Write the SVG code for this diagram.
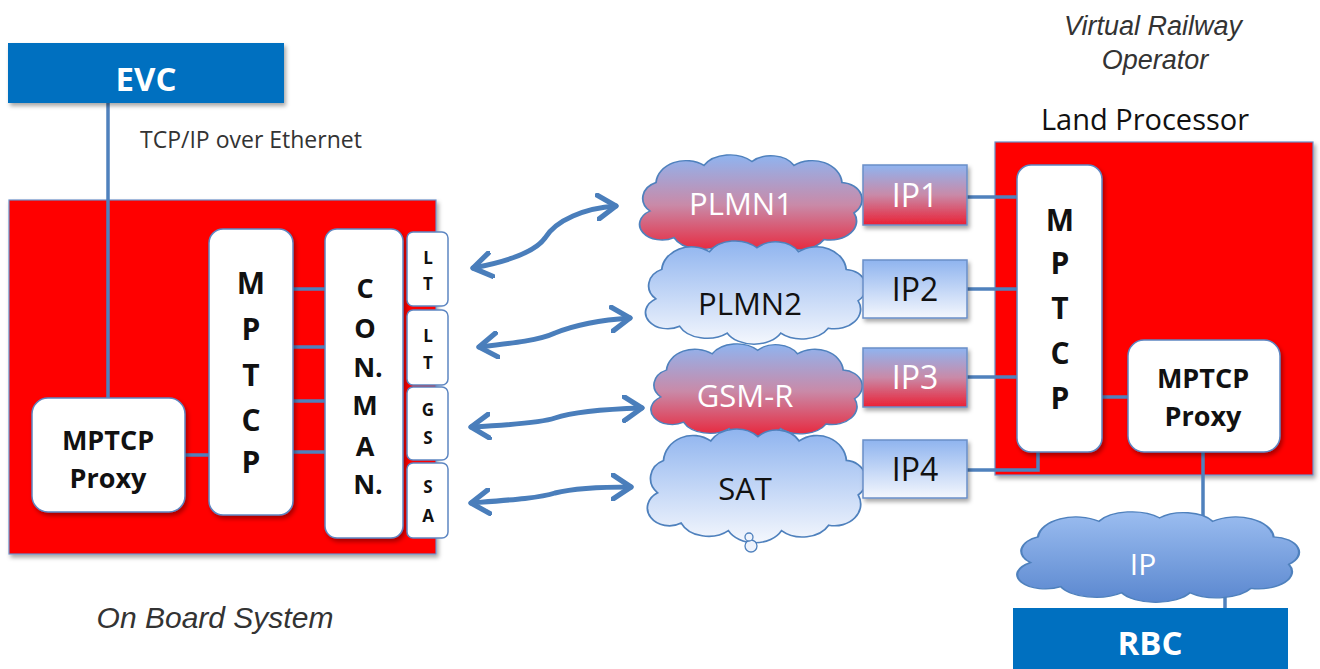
<svg xmlns="http://www.w3.org/2000/svg" width="1320" height="669" viewBox="0 0 1320 669">
<style>
.red{fill:#ff0000;stroke:#6a8fc8;stroke-width:1.2}
.wbox{fill:#ffffff;stroke:#5d86c2;stroke-width:1.5}
.blue{fill:#0070c0}
.ln{stroke:#4f81bd;stroke-width:3.5;fill:none}
.arr{stroke:#4a7ebb;stroke-width:5;fill:none;stroke-linecap:round;marker-start:url(#ah);marker-end:url(#ah)}
.cl{stroke:#4f81bd;stroke-width:1.5;vector-effect:non-scaling-stroke}
.t{font-family:"Open Sans","Liberation Sans",sans-serif}
.b{font-weight:bold}
.ital{font-family:"Liberation Sans",Arial,sans-serif;font-style:italic;fill:#333}
.let{font-family:"Open Sans","Liberation Sans",sans-serif;font-weight:bold;font-size:30px;text-anchor:middle;fill:#111}
.let2{font-family:"Open Sans","Liberation Sans",sans-serif;font-weight:bold;font-size:27px;text-anchor:middle;fill:#111}
.sm{font-family:"Open Sans","Liberation Sans",sans-serif;font-weight:bold;font-size:17px;text-anchor:middle;fill:#111}
.ipbox{stroke:#6a8fc8;stroke-width:1.5}
</style>
<defs>
<filter id="sh" x="-10%" y="-10%" width="130%" height="130%"><feDropShadow dx="2" dy="3" stdDeviation="2" flood-color="#000" flood-opacity="0.35"/></filter>
<linearGradient id="gRed" x1="0" y1="0" x2="0" y2="1"><stop offset="0" stop-color="#8fb4f0"/><stop offset="0.5" stop-color="#c98aa8"/><stop offset="1" stop-color="#ea2035"/></linearGradient>
<linearGradient id="gLight" x1="0" y1="0" x2="0" y2="1"><stop offset="0" stop-color="#8fb4ef"/><stop offset="1" stop-color="#f4f7fd"/></linearGradient>
<linearGradient id="gIP" x1="0" y1="0" x2="0" y2="1"><stop offset="0" stop-color="#9bbdf0"/><stop offset="1" stop-color="#5a87cf"/></linearGradient>
<marker id="ah" viewBox="0 0 12 14" refX="10" refY="7" markerWidth="4.8" markerHeight="5.6" orient="auto-start-reverse" markerUnits="strokeWidth"><path d="M1,1 L10,7 L1,13" fill="none" stroke="#4a7ebb" stroke-width="2.6" stroke-linecap="round" stroke-linejoin="round"/></marker>
<path id="cloud" d="M20,60 A18 18 0 0 1 25,30 A25 25 0 0 1 65,12 A25 22 0 0 1 105,8 A22 20 0 0 1 140,12 A25 25 0 0 1 180,30 A18 18 0 0 1 190,62 A22 20 0 0 1 165,90 A25 20 0 0 1 125,95 A25 20 0 0 1 80,95 A25 20 0 0 1 40,88 A18 16 0 0 1 20,60 Z"/>
</defs>

<rect width="1320" height="669" fill="#ffffff"/>

<!-- labels -->
<text class="ital" x="1153" y="35" font-size="27" text-anchor="middle">Virtual Railway</text>
<text class="ital" x="1155" y="69" font-size="27" text-anchor="middle">Operator</text>
<text class="t" x="1145" y="130" font-size="29" text-anchor="middle" fill="#111">Land Processor</text>
<text class="ital" x="215" y="628" font-size="30" text-anchor="middle">On Board System</text>
<text class="t" x="140" y="148" font-size="23" fill="#333">TCP/IP over Ethernet</text>

<!-- containers -->
<g id="onboard"><rect class="red" x="9" y="200" width="427" height="354" filter="url(#sh)"/></g>
<g id="landproc"><rect class="red" x="995" y="142" width="318" height="333" filter="url(#sh)"/></g>

<!-- connectors -->
<g id="connectors">
<line class="ln" x1="108" y1="103" x2="108" y2="399"/>
<line class="ln" x1="185" y1="455" x2="210" y2="455"/>
<line class="ln" x1="293" y1="289" x2="325" y2="289"/>
<line class="ln" x1="293" y1="347" x2="325" y2="347"/>
<line class="ln" x1="293" y1="401" x2="325" y2="401"/>
<line class="ln" x1="293" y1="452" x2="325" y2="452"/>
<line class="ln" x1="967" y1="197" x2="1018" y2="197"/>
<line class="ln" x1="967" y1="289" x2="1018" y2="289"/>
<line class="ln" x1="967" y1="377" x2="1018" y2="377"/>
<polyline class="ln" points="967,470 1038,470 1038,452"/>
<line class="ln" x1="1102" y1="397" x2="1128" y2="397"/>
<line class="ln" x1="1203" y1="452" x2="1203" y2="520"/>
<line class="ln" x1="1225" y1="588" x2="1225" y2="610"/>
<path class="arr" d="M473,268 C505,262 535,252 545,238 C556,220 585,208 616,206"/>
<path class="arr" d="M479,347 C515,343 540,340 555,333 C575,325 600,320 630,318"/>
<path class="arr" d="M471,427 C510,425 540,423 555,418 C575,411 610,409 642,408"/>
<path class="arr" d="M471,503 C510,500 540,498 555,493 C575,488 605,487 631,487"/>
</g>

<g id="evc"><rect class="blue" x="8" y="43" width="276" height="60" filter="url(#sh)"/><text class="t b" x="146" y="91" font-size="33" text-anchor="middle" fill="#fff">EVC</text></g>

<g id="proxy-left"><rect class="wbox" x="32" y="398" width="153" height="114" rx="16" filter="url(#sh)"/>
<text class="t b" x="108" y="450" font-size="27" text-anchor="middle" fill="#111">MPTCP</text>
<text class="t b" x="108" y="488" font-size="27" text-anchor="middle" fill="#111">Proxy</text></g>

<g id="mptcp-left"><rect class="wbox" x="209" y="229" width="84" height="286" rx="14" filter="url(#sh)"/>
<text class="let" x="251" y="294">M</text><text class="let" x="251" y="340">P</text><text class="let" x="251" y="386">T</text><text class="let" x="251" y="431">C</text><text class="let" x="251" y="473">P</text></g>

<g id="conman"><rect class="wbox" x="325" y="229" width="78" height="309" rx="12" filter="url(#sh)"/>
<text class="let2" x="365" y="298">C</text><text class="let2" x="365" y="338">O</text><text class="let2" x="368" y="377">N.</text><text class="let2" x="365" y="415">M</text><text class="let2" x="365" y="456">A</text><text class="let2" x="368" y="494">N.</text></g>

<g id="lt1"><rect class="wbox" x="407" y="232" width="41" height="74" rx="6"/><text class="sm" x="428" y="264">L</text><text class="sm" x="428" y="290">T</text></g>
<g id="lt2"><rect class="wbox" x="407" y="310" width="41" height="75" rx="6"/><text class="sm" x="428" y="342">L</text><text class="sm" x="428" y="369">T</text></g>
<g id="gs"><rect class="wbox" x="407" y="387" width="41" height="73" rx="6"/><text class="sm" x="428" y="416">G</text><text class="sm" x="428" y="444">S</text></g>
<g id="sa"><rect class="wbox" x="407" y="463" width="41" height="75" rx="6"/><text class="sm" x="428" y="493">S</text><text class="sm" x="428" y="522">A</text></g>

<g id="plmn1"><use href="#cloud" class="cl" fill="url(#gRed)" transform="translate(626,154) scale(1.2,0.95)"/><text class="t" x="741" y="215" font-size="31" text-anchor="middle" fill="#fff">PLMN1</text></g>
<g id="plmn2"><use href="#cloud" class="cl" fill="url(#gLight)" transform="translate(632,240) scale(1.19,0.98)"/><text class="t" x="750" y="315" font-size="31" text-anchor="middle" fill="#111">PLMN2</text></g>
<g id="gsmr"><use href="#cloud" class="cl" fill="url(#gRed)" transform="translate(638,343) scale(1.14,0.9)"/><text class="t" x="745" y="407" font-size="31" text-anchor="middle" fill="#fff">GSM-R</text></g>
<g id="sat"><use href="#cloud" class="cl" fill="url(#gLight)" transform="translate(634,428) scale(1.18,1.08)"/>
<circle cx="751" cy="546" r="6" fill="#eef3fc" stroke="#4f81bd" stroke-width="1.3"/><circle cx="749" cy="537" r="4" fill="#eef3fc" stroke="#4f81bd" stroke-width="1.3"/>
<text class="t" x="745" y="500" font-size="31" text-anchor="middle" fill="#111">SAT</text></g>

<g id="ip1"><rect class="ipbox" x="863" y="165" width="104" height="60" fill="url(#gRed)" filter="url(#sh)"/><text class="t" x="915" y="207" font-size="32" text-anchor="middle" fill="#fff">IP1</text></g>
<g id="ip2"><rect class="ipbox" x="863" y="260" width="104" height="58" fill="url(#gLight)" filter="url(#sh)"/><text class="t" x="915" y="301" font-size="32" text-anchor="middle" fill="#111">IP2</text></g>
<g id="ip3"><rect class="ipbox" x="863" y="348" width="104" height="59" fill="url(#gRed)" filter="url(#sh)"/><text class="t" x="915" y="389" font-size="32" text-anchor="middle" fill="#fff">IP3</text></g>
<g id="ip4"><rect class="ipbox" x="863" y="440" width="104" height="58" fill="url(#gLight)" filter="url(#sh)"/><text class="t" x="915" y="481" font-size="32" text-anchor="middle" fill="#111">IP4</text></g>

<g id="mptcp-right"><rect class="wbox" x="1017" y="165" width="85" height="287" rx="14" filter="url(#sh)"/>
<text class="let" x="1060" y="231">M</text><text class="let" x="1060" y="274">P</text><text class="let" x="1060" y="319">T</text><text class="let" x="1060" y="364">C</text><text class="let" x="1060" y="409">P</text></g>

<g id="proxy-right"><rect class="wbox" x="1128" y="340" width="152" height="112" rx="16" filter="url(#sh)"/>
<text class="t b" x="1203" y="388" font-size="27" text-anchor="middle" fill="#111">MPTCP</text>
<text class="t b" x="1203" y="426" font-size="27" text-anchor="middle" fill="#111">Proxy</text></g>

<g id="ipcloud"><use href="#cloud" class="cl" fill="url(#gIP)" transform="translate(1000,511) scale(1.52,0.86)"/><text class="t" x="1143" y="575" font-size="30" text-anchor="middle" fill="#fff">IP</text></g>

<g id="rbc"><rect class="blue" x="1013" y="608" width="275" height="61"/><text class="t b" x="1150" y="655" font-size="33" text-anchor="middle" fill="#fff">RBC</text></g>
</svg>
